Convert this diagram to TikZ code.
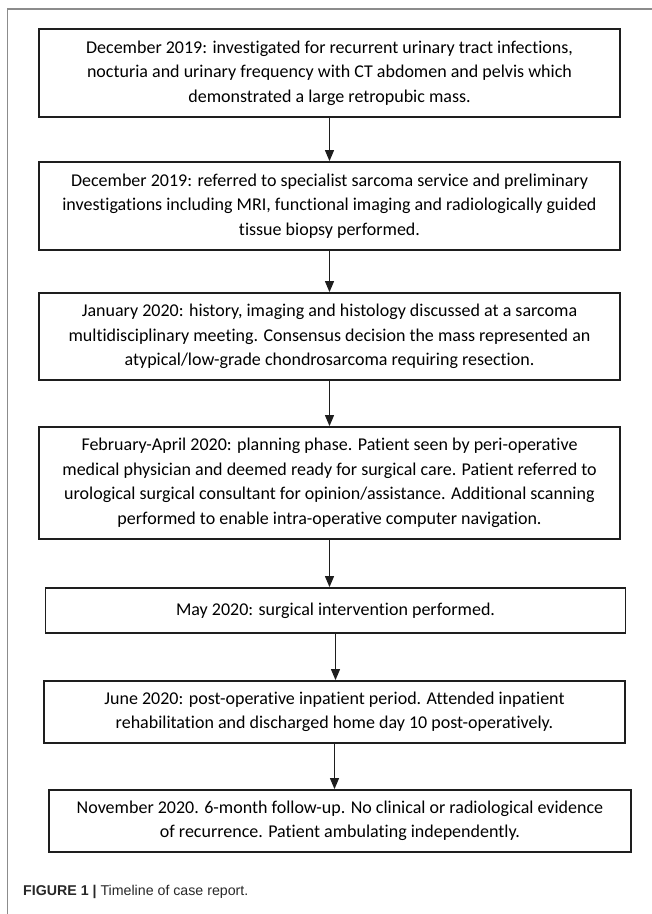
\documentclass[tikz,border=0pt]{standalone}
\usepackage{fontspec}
\setmainfont{Carlito}[Ligatures={NoCommon,NoRare}]
\newfontfamily\capfont{Liberation Sans}
\usetikzlibrary{arrows.meta,positioning}
\definecolor{boxline}{RGB}{30,30,30}
\definecolor{framegray}{RGB}{140,140,140}
\definecolor{captext}{RGB}{40,40,40}

\begin{document}
\begin{tikzpicture}[x=1pt,y=1pt,
        event/.style={draw=boxline, line width=1.8pt, align=center, inner sep=0pt,
                      font=\fontsize{18}{24.5}\selectfont, text=black},
        next/.style={draw=boxline, line width=1.1pt, -{Triangle[width=9pt,length=11pt]}}]
    \useasboundingbox (0,0) rectangle (652,-914);
    % page frame
    \draw[framegray, line width=1.4pt] (7.5,-914) -- (7.5,-9) -- (652,-9);
    % timeline boxes
    \node[event, minimum width=581pt, minimum height=88pt] (dec19a) at (329.5,-73)
        {December 2019: investigated for recurrent urinary tract infections,\\
         nocturia and urinary frequency with CT abdomen and pelvis which\\
         demonstrated a large retropubic mass.};
    \node[event, minimum width=581pt, minimum height=88pt] (dec19b) at (329.5,-206)
        {December 2019: referred to specialist sarcoma service and preliminary\\
         investigations including MRI, functional imaging and radiologically guided\\
         tissue biopsy performed.};
    \node[event, minimum width=581pt, minimum height=87pt] (jan20) at (329.5,-336.5)
        {January 2020: history, imaging and histology discussed at a sarcoma\\
         multidisciplinary meeting. Consensus decision the mass represented an\\
         atypical/low-grade chondrosarcoma requiring resection.};
    \node[event, minimum width=581pt, minimum height=112pt] (febapr20) at (329.5,-483)
        {February-April 2020: planning phase. Patient seen by peri-operative\\
         medical physician and deemed ready for surgical care. Patient referred to\\
         urological surgical consultant for opinion/assistance. Additional scanning\\
         performed to enable intra-operative computer navigation.};
    \node[event, minimum width=580pt, minimum height=45pt] (may20) at (335.5,-610.5)
        {May 2020: surgical intervention performed.};
    \node[event, minimum width=581pt, minimum height=62pt] (jun20) at (334.5,-712)
        {June 2020: post-operative inpatient period. Attended inpatient\\
         rehabilitation and discharged home day 10 post-operatively.};
    \node[event, minimum width=582pt, minimum height=62pt] (nov20) at (340,-821)
        {November 2020. 6-month follow-up. No clinical or radiological evidence\\
         of recurrence. Patient ambulating independently.};
    % arrows
    \draw[next] (dec19a.south) -- (dec19a.south |- dec19b.north);
    \draw[next] (dec19b.south) -- (dec19b.south |- jan20.north);
    \draw[next] (jan20.south) -- (jan20.south |- febapr20.north);
    \draw[next] (febapr20.south) -- (febapr20.south |- may20.north);
    \draw[next] (may20.south) -- (may20.south |- jun20.north);
    \draw[next] (jun20.south) -- (jun20.south |- nov20.north);
    % caption
    \node[anchor=base west, inner sep=0pt, text=captext,
          font=\capfont\fontsize{14.2}{17}\selectfont] (caption) at (23,-895)
        {\textbf{FIGURE 1 |} Timeline of case report.};
\end{tikzpicture}
\end{document}
